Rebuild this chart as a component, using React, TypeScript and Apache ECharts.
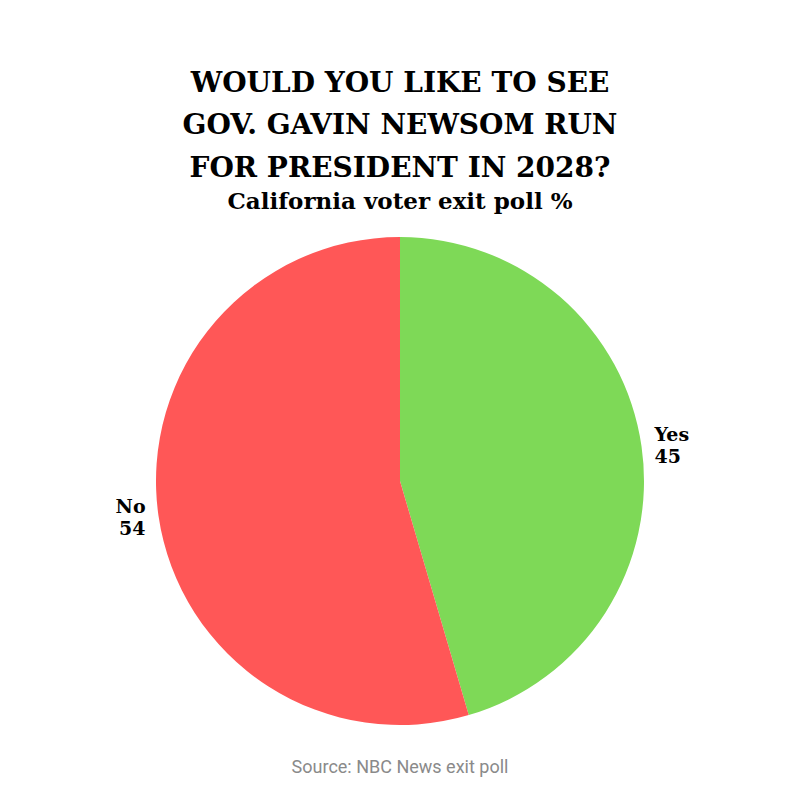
import React, { useEffect, useRef } from "react";
import * as echarts from "echarts";

const categories = ["Yes", "No"];
const values = [45, 54];
const colors = ["#7ED957", "#FF5757"];
const titleLines = ["WOULD YOU LIKE TO SEE", "GOV. GAVIN NEWSOM RUN", "FOR PRESIDENT IN 2028?"];
const subtitle = "California voter exit poll %";
const source = "Source: NBC News exit poll";

const HEAVY = "'DejaVu Serif', serif";

export default function App() {
  const ref = useRef<HTMLDivElement>(null);
  useEffect(() => {
    document.body.style.margin = "0";
    const chart = echarts.init(ref.current!, null, { renderer: "svg" });
    const titles: any[] = titleLines.map((t, i) => ({
      text: t,
      left: "center",
      top: 63 + i * 42.5,
      textStyle: { fontFamily: HEAVY, fontWeight: 900, fontSize: 28, color: "#000" },
    }));
    titles.push({
      text: subtitle,
      left: "center",
      top: 184,
      textStyle: { fontFamily: HEAVY, fontWeight: 900, fontSize: 23, color: "#000" },
    });
    titles.push({
      text: source,
      left: "center",
      top: 752,
      textStyle: { fontFamily: "Roboto, sans-serif", fontWeight: 400, fontSize: 18, color: "#8a8a8a" },
    });
    chart.setOption({
      animation: false,
      backgroundColor: "#ffffff",
      title: titles,
      series: [
        {
          type: "pie",
          center: [400, 481],
          radius: [0, 244],
          startAngle: 90,
          clockwise: true,
          avoidLabelOverlap: false,
          data: categories.map((c, i) => ({ name: c, value: values[i], itemStyle: { color: colors[i] } })),
          label: {
            show: true,
            position: "outside",
            formatter: "{b}\n{c}",
            fontFamily: HEAVY,
            fontWeight: 900,
            fontSize: 19,
            lineHeight: 22,
            color: "#000",
            align: "center",
          },
          labelLine: { show: false, length: 8, length2: 0 },
          emphasis: { disabled: true },
        },
      ],
    });
    return () => chart.dispose();
  }, []);
  return <div ref={ref} style={{ width: 800, height: 800 }} />;
}
